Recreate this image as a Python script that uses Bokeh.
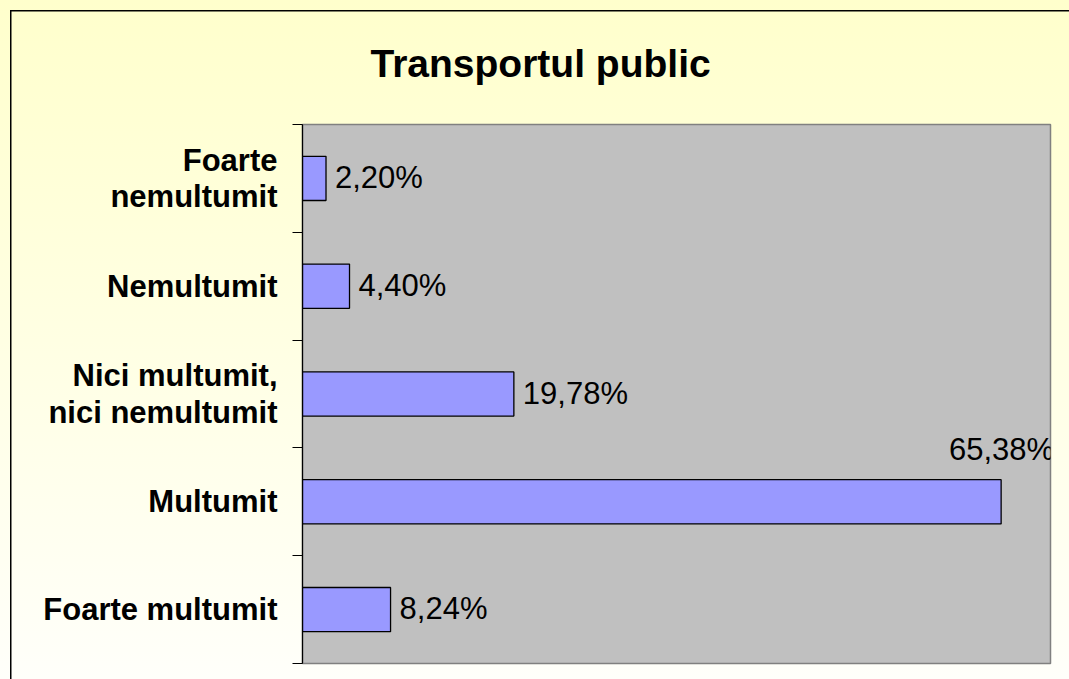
from bokeh.plotting import figure
from bokeh.models import Range1d, LinearAxis, FixedTicker, LabelSet, ColumnDataSource
from bokeh.core.properties import value
from bokeh.embed import file_html
from bokeh.resources import INLINE

title_text = "Transportul public"
categories = ["Foarte nemultumit", "Nemultumit", "Nici multumit, nici nemultumit", "Multumit", "Foarte multumit"]
display_labels = ["Foarte\nnemultumit", "Nemultumit", "Nici multumit,\nnici nemultumit", "Multumit", "Foarte multumit"]
values = [2.20, 4.40, 19.78, 65.38, 8.24]
value_labels = ["2,20%", "4,40%", "19,78%", "65,38%", "8,24%"]
x_max = 70

FONT_NAME = "Liberation Sans"
FONT = value(FONT_NAME)
n = len(categories)
ypos = [n - 0.5 - i for i in range(n)]  # category slot centres, first category on top

p = figure(
    width=1069, height=679,
    x_range=Range1d(0, x_max),
    y_range=Range1d(0, n),
    x_axis_location=None, y_axis_location=None,
    output_backend="svg", toolbar_location=None,
    min_border_left=302, min_border_right=19, min_border_top=122, min_border_bottom=16,
    background_fill_color="#C0C0C0", border_fill_color=None,
    outline_line_color="#808080", outline_line_width=1.5,
)
p.styles = {
    "background": "linear-gradient(#000, #000) 10px 10px / 1.5px 100% no-repeat, "
                  "linear-gradient(#000, #000) 10px 10px / 100% 1.5px no-repeat, "
                  "linear-gradient(#FFFFCC, #FFFFFA)",
}
p.xgrid.visible = False
p.ygrid.visible = False

# title
p.title.text = title_text
p.title.align = "left"
p.title.offset = 68
p.title.standoff = 79
p.title.text_font = FONT_NAME
p.title.text_font_style = "bold"
p.title.text_font_size = "39px"
p.title.text_color = "black"

# category axis: labels at slot centres, ticks on slot boundaries
cat_axis = LinearAxis(
    ticker=FixedTicker(ticks=ypos, minor_ticks=list(range(n + 1))),
    major_label_overrides={y: lab for y, lab in zip(ypos, display_labels)},
    major_label_standoff=15,
    major_label_text_font=FONT_NAME, major_label_text_font_style="bold",
    major_label_text_font_size="31px", major_label_text_color="black",
    major_label_text_line_height=1.05,
    major_tick_out=0, major_tick_in=0, minor_tick_out=10, minor_tick_in=0,
    axis_line_color="black", axis_line_width=1.2, minor_tick_line_color="black",
)
p.add_layout(cat_axis, "left")

src = ColumnDataSource(dict(y=ypos, val=values, lab=value_labels))
p.hbar(y="y", right="val", left=0, height=0.41, source=src,
       fill_color="#9999FF", line_color="black", line_width=1.3)

# value labels
inside = [i for i, v in enumerate(values) if v < 0.85 * x_max]
over = [i for i, v in enumerate(values) if v >= 0.85 * x_max]
s_in = ColumnDataSource(dict(y=[ypos[i] for i in inside], val=[values[i] for i in inside],
                             lab=[value_labels[i] for i in inside]))
p.add_layout(LabelSet(x="val", y="y", text="lab", source=s_in, x_offset=9, y_offset=1,
                      text_align="left", text_baseline="middle", text_font=FONT,
                      text_font_size="31px", text_color="black"))
s_over = ColumnDataSource(dict(y=[ypos[i] for i in over], val=[values[i] for i in over],
                               lab=[value_labels[i] for i in over]))
p.add_layout(LabelSet(x="val", y="y", text="lab", source=s_over, x_offset=53, y_offset=52,
                      text_align="right", text_baseline="middle", text_font=FONT,
                      text_font_size="31px", text_color="black"))

open("out.html", "w").write(file_html(p, INLINE))
